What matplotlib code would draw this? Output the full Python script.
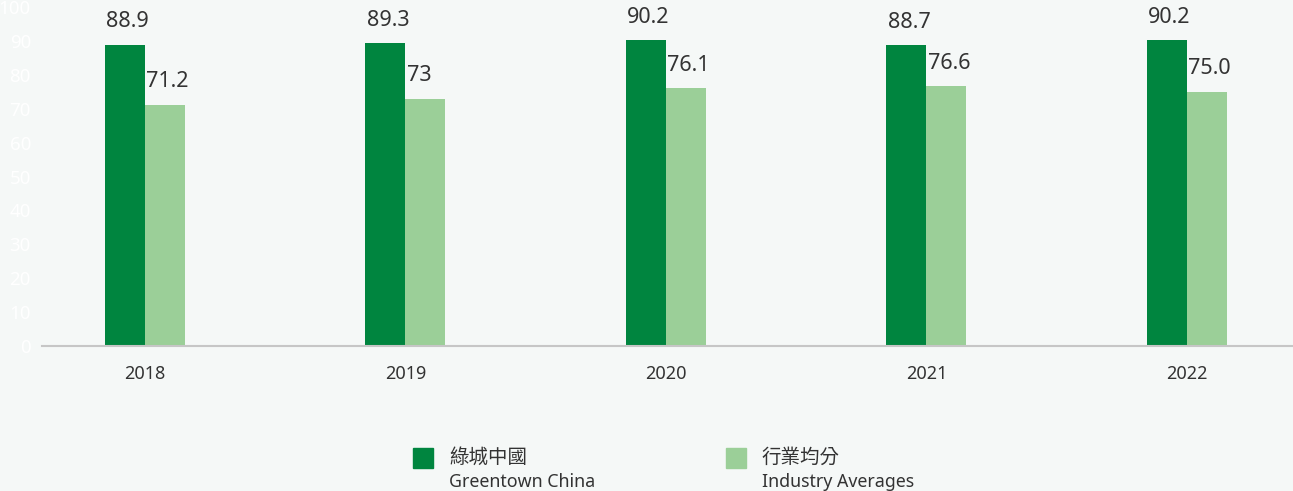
import matplotlib
matplotlib.use("Agg")
import matplotlib.pyplot as plt
from matplotlib.patches import Rectangle
import numpy as np

years = ["2018", "2019", "2020", "2021", "2022"]
greentown = [88.9, 89.3, 90.2, 88.7, 90.2]
industry = [71.2, 73, 76.1, 76.6, 75.0]
greentown_labels = ["88.9", "89.3", "90.2", "88.7", "90.2"]
industry_labels = ["71.2", "73", "76.1", "76.6", "75.0"]
series_cn = ["綠城中國", "行業均分"]
series_en = ["Greentown China", "Industry Averages"]
yticks = list(range(0, 101, 10))

DARK = "#00853f"
LIGHT = "#9bcf98"
BG = "#f5f8f7"
TXT = "#333333"

plt.rcParams['font.family'] = ['Noto Sans', 'Noto Sans CJK TC', 'DejaVu Sans']

W, H = 1293, 491
fig = plt.figure(figsize=(W / 100, H / 100), dpi=100)
fig.patch.set_facecolor(BG)
ax = fig.add_axes([42 / W, (H - 346) / H, (W - 42) / W, (346 - 7) / H])
ax.set_facecolor(BG)

x = np.arange(len(years))
bw = 0.1535
ax.bar(x - bw / 2, greentown, width=bw, color=DARK, zorder=2)
ax.bar(x + bw / 2, industry, width=bw, color=LIGHT, zorder=2)

for xi, v, lab in zip(x, greentown, greentown_labels):
    ax.annotate(lab, (xi - bw, v), xytext=(1, 9), textcoords="offset points",
                ha="left", va="bottom", fontsize=15.5, color=TXT)
for xi, v, lab in zip(x, industry, industry_labels):
    ax.annotate(lab, (xi, v), xytext=(1, 9), textcoords="offset points",
                ha="left", va="bottom", fontsize=15.5, color=TXT)

ax.set_xlim(-0.395, 4.407)
ax.set_ylim(0, 100)
ax.set_xticks(x)
ax.set_xticklabels(years, fontsize=13, color=TXT)
ax.set_yticks(yticks)
ax.set_yticklabels([str(t) for t in yticks], fontsize=13.5, color="white")
ax.tick_params(axis="both", length=0)
ax.tick_params(axis="x", pad=14)
ax.tick_params(axis="y", pad=8)
for s in ["top", "right", "left"]:
    ax.spines[s].set_visible(False)
ax.spines["bottom"].set_color("#c6c6c6")
ax.spines["bottom"].set_linewidth(1.5)

# legend
for (px, color, cn, en, tx) in [(413, DARK, series_cn[0], series_en[0], 449),
                                (726, LIGHT, series_cn[1], series_en[1], 762)]:
    fig.patches.append(Rectangle((px / W, (H - 468) / H), 20 / W, 20 / H,
                                 transform=fig.transFigure, color=color))
    fig.text(tx / W, (H - 458) / H, cn, ha="left", va="center", fontsize=14,
             color=TXT)
    fig.text(tx / W, (H - 482) / H, en, ha="left", va="center", fontsize=12.8,
             color=TXT)

fig.savefig("out.png", dpi=100, facecolor=BG)
